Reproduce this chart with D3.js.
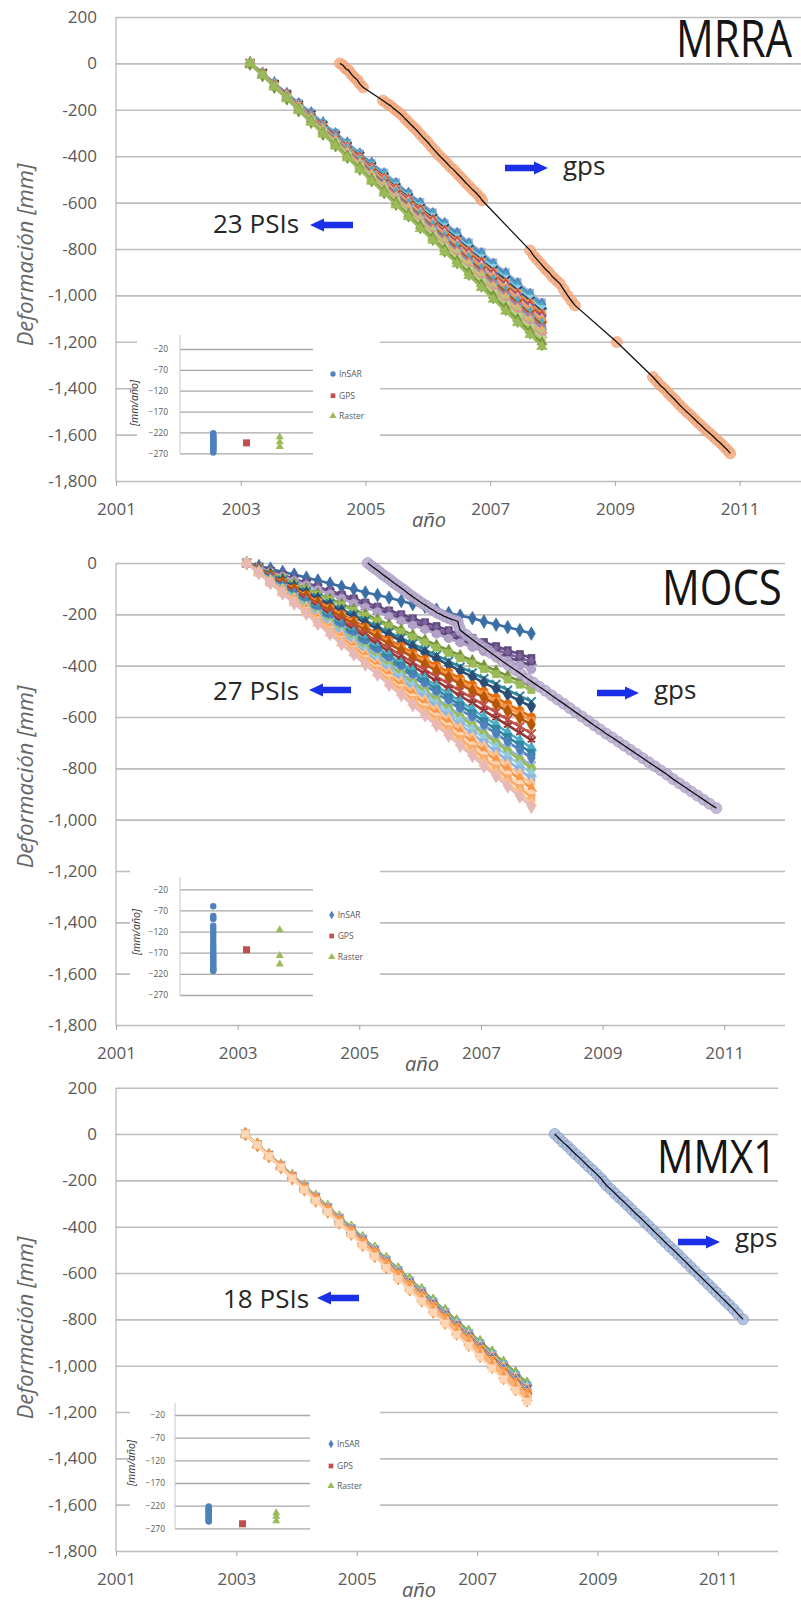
<!DOCTYPE html>
<html>
<head>
<meta charset="utf-8">
<script src="https://cdn.jsdelivr.net/npm/d3@7"></script>
<style>
  body { margin: 0; background: #fff; }
  svg { display: block; }
</style>
</head>
<body>
<div id="chart"></div>
<script>
// acquisition dates shared by all PSI series (decimal years)
var psiEpochs = [2003.15, 2003.35, 2003.54, 2003.74, 2003.93, 2004.13, 2004.32, 2004.52, 2004.71, 2004.91,
  2005.10, 2005.30, 2005.49, 2005.69, 2005.88, 2006.08, 2006.27, 2006.47, 2006.66, 2006.86,
  2007.05, 2007.25, 2007.44, 2007.64, 2007.83];

// ---- MRRA ----
var mrraPsi = [
  [0,-40,-88,-130,-170,-212,-260,-298,-342,-388,-430,-470,-512,-560,-598,-642,-688,-728,-772,-812,-858,-900,-942,-988,-1030],
  [0,-45,-85,-132,-175,-215,-258,-305,-345,-392,-432,-478,-520,-562,-605,-650,-692,-735,-780,-822,-868,-908,-952,-998,-1040],
  [0,-42,-90,-130,-178,-220,-262,-308,-350,-395,-438,-480,-525,-570,-612,-655,-700,-745,-788,-830,-875,-918,-962,-1005,-1050],
  [0,-46,-88,-135,-176,-222,-265,-310,-352,-398,-442,-488,-530,-575,-620,-662,-706,-752,-795,-840,-882,-928,-972,-1015,-1060],
  [0,-43,-90,-134,-180,-222,-268,-312,-358,-400,-446,-490,-535,-580,-625,-668,-712,-758,-802,-848,-892,-935,-980,-1025,-1070],
  [0,-47,-90,-136,-180,-226,-270,-316,-360,-405,-450,-494,-540,-586,-630,-675,-720,-764,-810,-855,-900,-946,-990,-1034,-1080],
  [0,-44,-92,-135,-182,-228,-272,-318,-364,-408,-454,-500,-545,-590,-636,-680,-726,-772,-818,-862,-908,-954,-1000,-1044,-1090],
  [0,-48,-92,-138,-184,-228,-276,-320,-366,-414,-458,-505,-550,-596,-642,-688,-734,-778,-826,-870,-916,-962,-1008,-1054,-1100],
  [0,-45,-94,-138,-185,-230,-276,-322,-368,-415,-460,-506,-552,-598,-645,-690,-736,-782,-830,-875,-920,-966,-1012,-1060,-1105],
  [0,-47,-92,-140,-185,-232,-278,-325,-370,-416,-462,-508,-555,-602,-648,-694,-740,-786,-832,-880,-925,-970,-1018,-1064,-1110],
  [0,-46,-94,-140,-188,-234,-280,-326,-374,-420,-466,-514,-560,-606,-654,-700,-746,-794,-840,-886,-934,-980,-1026,-1074,-1120],
  [0,-48,-94,-142,-188,-235,-282,-328,-375,-422,-468,-516,-562,-610,-656,-703,-750,-796,-844,-890,-938,-984,-1030,-1078,-1125],
  [0,-46,-95,-142,-190,-236,-284,-330,-378,-424,-472,-518,-566,-612,-660,-706,-754,-800,-848,-894,-942,-988,-1036,-1082,-1130],
  [0,-48,-96,-144,-190,-238,-286,-332,-380,-428,-476,-522,-570,-618,-665,-712,-760,-808,-855,-902,-950,-998,-1045,-1092,-1140],
  [0,-47,-96,-144,-192,-240,-288,-336,-383,-432,-480,-528,-575,-623,-671,-719,-767,-815,-862,-910,-958,-1006,-1054,-1102,-1150],
  [0,-49,-97,-145,-193,-241,-289,-337,-385,-434,-482,-530,-578,-626,-674,-722,-770,-818,-866,-914,-962,-1010,-1058,-1106,-1155],
  [0,-48,-98,-145,-194,-242,-290,-338,-387,-435,-484,-532,-580,-628,-677,-725,-773,-822,-870,-918,-967,-1015,-1063,-1112,-1160],
  [0,-50,-98,-147,-195,-244,-292,-341,-390,-439,-488,-536,-585,-634,-682,-731,-780,-829,-878,-926,-975,-1024,-1072,-1121,-1170],
  [0,-49,-99,-148,-197,-246,-295,-344,-393,-442,-492,-541,-590,-639,-688,-738,-787,-836,-885,-934,-983,-1032,-1082,-1131,-1180],
  [0,-50,-100,-149,-198,-248,-298,-347,-397,-446,-496,-545,-595,-645,-694,-744,-793,-843,-892,-942,-992,-1041,-1091,-1140,-1190],
  [0,-51,-100,-150,-200,-250,-300,-350,-400,-450,-500,-550,-600,-650,-700,-750,-800,-850,-900,-950,-1000,-1050,-1100,-1150,-1200],
  [0,-50,-101,-151,-202,-252,-303,-353,-403,-454,-504,-555,-605,-655,-706,-756,-807,-857,-907,-958,-1008,-1059,-1109,-1160,-1210],
  [0,-52,-102,-152,-203,-254,-305,-356,-407,-458,-508,-559,-610,-661,-712,-762,-813,-864,-915,-966,-1017,-1068,-1118,-1169,-1220]
];
var mrraPsiColors = ["#95B3D7","#4F81BD","#4BACC6","#93CDDD","#2C4D75","#F79646","#C0504D","#8064A2","#E6B9B8","#F79646","#D99694","#4BACC6",
  "#B65708","#9983B5","#CD7371","#6FBDD1","#F9AB6B","#AFC97A","#D99694","#C3D69B","#9BBB59","#77933C","#9BBB59"];
var mrraPsiShapes = ["square","diamond","triangle","square","x","circle","diamond","square","triangle","circle","square","diamond",
  "x","circle","triangle","square","diamond","triangle","circle","square","triangle","diamond","triangle"];
var mrraGpsYears = [2004.59,2004.64,2004.68,2004.73,2004.77,2004.82,2004.87,2004.91,2004.96,
  2005.28,2005.34,2005.40,2005.46,2005.52,2005.58,2005.64,2005.70,2005.76,2005.82,2005.88,2005.94,2006.00,2006.06,2006.12,
  2006.18,2006.24,2006.30,2006.36,2006.42,2006.48,2006.54,2006.60,2006.66,2006.72,2006.78,2006.84,2006.87,
  2007.64,2007.70,2007.76,2007.82,2007.88,2007.94,2008.00,2008.06,2008.12,2008.18,2008.24,2008.30,2008.36,
  2009.03,
  2009.61,2009.67,2009.73,2009.79,2009.85,2009.91,2009.97,2010.03,2010.09,2010.15,2010.21,2010.27,2010.33,2010.39,
  2010.45,2010.51,2010.57,2010.63,2010.69,2010.75,2010.81,2010.85];
var mrraGpsValues = [0,-8,-22,-30,-45,-60,-72,-88,-103,
  -160,-172,-182,-196,-208,-222,-240,-256,-272,-288,-306,-324,-340,-360,-378,
  -396,-412,-428,-446,-460,-478,-494,-512,-528,-545,-560,-578,-590,
  -806,-830,-848,-866,-885,-900,-920,-935,-950,-975,-1000,-1022,-1043,
  -1201,
  -1352,-1370,-1388,-1402,-1420,-1436,-1452,-1470,-1486,-1502,-1516,-1532,-1548,-1562,
  -1578,-1592,-1606,-1622,-1636,-1652,-1668,-1681];
var mrraInsarRates = [-222,-225,-228,-230,-232,-234,-236,-238,-240,-241,-243,-245,-247,-248,-250,-252,-254,-256,-258,-260,-262,-265,-268];
var mrraGpsRate = [-245];
var mrraRasterRates = [-231,-243,-254];

// ---- MOCS ----
var mocsPsi = [
  [0,-12,-22,-35,-45,-57,-68,-80,-92,-102,-115,-125,-135,-148,-160,-170,-182,-195,-205,-215,-228,-240,-250,-262,-275],
  [0,-15,-30,-46,-62,-77,-92,-108,-123,-138,-154,-170,-185,-200,-216,-231,-246,-262,-278,-292,-308,-324,-340,-355,-370],
  [0,-16,-32,-48,-64,-80,-96,-112,-128,-144,-160,-176,-192,-208,-225,-240,-257,-272,-289,-305,-321,-337,-353,-369,-385],
  [0,-17,-33,-50,-67,-83,-100,-117,-133,-150,-167,-183,-200,-217,-233,-250,-267,-283,-300,-317,-333,-350,-367,-383,-400],
  [0,-17,-35,-52,-69,-86,-104,-121,-138,-156,-173,-190,-208,-225,-242,-259,-277,-294,-311,-329,-346,-363,-380,-398,-415],
  [0,-20,-40,-60,-80,-100,-120,-140,-160,-180,-200,-220,-240,-260,-280,-300,-320,-340,-360,-380,-400,-420,-440,-460,-480],
  [0,-21,-41,-62,-83,-103,-124,-144,-165,-186,-206,-227,-248,-268,-289,-309,-330,-351,-371,-392,-413,-433,-454,-474,-495],
  [0,-22,-45,-68,-90,-112,-135,-158,-180,-202,-225,-248,-270,-292,-315,-338,-360,-382,-405,-428,-450,-472,-495,-518,-540],
  [0,-23,-47,-70,-93,-117,-140,-163,-187,-210,-233,-257,-280,-303,-327,-350,-373,-397,-420,-443,-467,-490,-513,-537,-560],
  [0,-25,-50,-75,-100,-125,-150,-175,-200,-225,-250,-275,-300,-325,-350,-375,-400,-425,-450,-475,-500,-525,-550,-575,-600],
  [0,-26,-51,-77,-102,-128,-154,-179,-205,-231,-256,-282,-308,-333,-359,-384,-410,-436,-461,-487,-512,-538,-564,-589,-615],
  [0,-26,-52,-79,-105,-131,-158,-184,-210,-236,-262,-289,-315,-341,-368,-394,-420,-446,-472,-499,-525,-551,-578,-604,-630],
  [0,-28,-55,-83,-111,-139,-166,-194,-222,-249,-277,-305,-332,-360,-388,-416,-443,-471,-499,-526,-554,-582,-610,-637,-665],
  [0,-29,-58,-86,-115,-144,-172,-201,-230,-259,-288,-316,-345,-374,-402,-431,-460,-489,-518,-546,-575,-604,-632,-661,-690],
  [0,-30,-60,-90,-120,-150,-180,-210,-240,-270,-300,-330,-360,-390,-420,-450,-480,-510,-540,-570,-600,-630,-660,-690,-720],
  [0,-31,-62,-92,-123,-154,-185,-216,-247,-277,-308,-339,-370,-401,-432,-462,-493,-524,-555,-586,-617,-647,-678,-709,-740],
  [0,-32,-63,-95,-127,-158,-190,-222,-253,-285,-317,-348,-380,-412,-443,-475,-507,-538,-570,-602,-633,-665,-697,-728,-760],
  [0,-33,-66,-99,-132,-165,-198,-230,-263,-296,-329,-362,-395,-428,-461,-494,-527,-560,-592,-625,-658,-691,-724,-757,-790],
  [0,-33,-67,-100,-133,-167,-200,-233,-267,-300,-333,-367,-400,-433,-467,-500,-533,-567,-600,-633,-667,-700,-733,-767,-800],
  [0,-34,-68,-102,-137,-171,-205,-239,-273,-307,-342,-376,-410,-444,-478,-512,-547,-581,-615,-649,-683,-717,-752,-786,-820],
  [0,-35,-70,-105,-140,-175,-210,-245,-280,-315,-350,-385,-420,-455,-490,-525,-560,-595,-630,-665,-700,-735,-770,-805,-840],
  [0,-36,-72,-108,-143,-179,-215,-251,-287,-322,-358,-394,-430,-466,-502,-537,-573,-609,-645,-681,-717,-752,-788,-824,-860],
  [0,-37,-73,-110,-147,-183,-220,-257,-293,-330,-367,-403,-440,-477,-513,-550,-587,-623,-660,-697,-733,-770,-807,-843,-880],
  [0,-38,-75,-112,-150,-188,-225,-262,-300,-338,-375,-412,-450,-488,-525,-562,-600,-638,-675,-712,-750,-788,-825,-862,-900],
  [0,-38,-76,-114,-152,-191,-229,-267,-305,-343,-381,-419,-458,-496,-534,-572,-610,-648,-686,-724,-762,-801,-839,-877,-915],
  [0,-39,-78,-117,-156,-195,-234,-273,-312,-351,-390,-429,-468,-506,-545,-584,-623,-662,-701,-740,-779,-818,-857,-896,-935],
  [0,-40,-79,-119,-158,-198,-238,-277,-317,-356,-396,-435,-475,-515,-554,-594,-633,-673,-712,-752,-792,-831,-871,-910,-950]
];
var mocsPsiColors = ["#3A6EA5","#604A7B","#8064A2","#5F497A","#B3A2C7","#77933C","#9BBB59","#31859C","#2C4D75","#E46C0A","#F79646","#B65708",
  "#C0504D","#953735","#4BACC6","#31859C","#4F81BD","#95B3D7","#9BBB59","#93CDDD","#8EB4E3","#FAC090","#F79646","#FCD5B5","#F9AB6B","#FAC090","#E6B9B8"];
var mocsPsiShapes = ["diamond","square","triangle","x","circle","triangle","square","x","diamond","circle","square","diamond",
  "x","star","triangle","square","diamond","x","circle","triangle","square","diamond","triangle","circle","square","triangle","diamond"];
var mocsGpsYears = [2005.14,2005.20,2005.26,2005.32,2005.38,2005.44,2005.50,2005.56,2005.62,2005.68,2005.74,2005.80,2005.86,2005.92,
  2005.98,2006.04,2006.10,2006.16,2006.22,2006.28,2006.34,2006.40,2006.46,2006.52,2006.58,2006.62,2006.64,2006.66,
  2006.76,2006.86,2006.96,2007.06,2007.16,2007.26,2007.36,2007.46,2007.56,2007.66,2007.76,2007.86,2007.96,2008.06,
  2008.16,2008.26,2008.36,2008.46,2008.56,2008.66,2008.76,2008.86,2008.96,2009.06,2009.16,2009.26,2009.36,2009.46,
  2009.56,2009.66,2009.76,2009.86,2009.96,2010.06,2010.16,2010.26,2010.36,2010.46,2010.56,2010.66,2010.76,2010.87];
var mocsGpsValues = [0,-12,-22,-32,-44,-54,-64,-76,-86,-96,-106,-118,-128,-138,
  -148,-158,-166,-176,-184,-194,-200,-208,-214,-220,-224,-228,-248,-262,
  -280,-298,-316,-332,-350,-366,-384,-400,-416,-432,-450,-466,-482,-498,
  -515,-532,-548,-565,-582,-598,-615,-632,-648,-665,-680,-696,-712,-728,
  -744,-760,-776,-792,-808,-824,-842,-858,-874,-890,-906,-922,-938,-955];
var mocsInsarRates = [-60,-83,-87,-90,-106,-112,-120,-126,-132,-140,-148,-154,-160,-165,-171,-175,-179,-183,-187,-191,-195,-199,-203,-206,-208,-211,-213];
var mocsGpsRate = [-163];
var mocsRasterRates = [-116,-177,-197];

// ---- MMX1 ----
var mmx1Psi = [
  [0,-45,-90,-134,-179,-224,-269,-314,-358,-403,-448,-493,-538,-582,-627,-672,-717,-762,-806,-851,-896,-941,-985,-1030,-1075],
  [0,-45,-90,-135,-180,-225,-270,-315,-360,-405,-450,-495,-540,-585,-630,-675,-720,-765,-810,-855,-900,-945,-990,-1035,-1080],
  [0,-45,-90,-136,-181,-226,-271,-316,-362,-407,-452,-497,-542,-588,-633,-678,-723,-768,-814,-859,-904,-949,-995,-1040,-1085],
  [0,-45,-91,-136,-182,-227,-272,-318,-363,-409,-454,-500,-545,-590,-636,-681,-727,-772,-818,-863,-908,-954,-999,-1045,-1090],
  [0,-46,-91,-137,-182,-228,-274,-319,-365,-411,-456,-502,-548,-593,-639,-684,-730,-776,-821,-867,-912,-958,-1004,-1049,-1095],
  [0,-46,-92,-137,-183,-229,-274,-320,-366,-412,-457,-503,-549,-595,-640,-686,-732,-777,-823,-869,-915,-960,-1006,-1052,-1098],
  [0,-46,-92,-138,-183,-229,-275,-321,-367,-412,-458,-504,-550,-596,-642,-688,-733,-779,-825,-871,-917,-962,-1008,-1054,-1100],
  [0,-46,-92,-138,-184,-230,-276,-322,-368,-414,-460,-506,-552,-598,-645,-691,-737,-783,-829,-875,-921,-967,-1013,-1059,-1105],
  [0,-46,-92,-139,-185,-231,-278,-324,-370,-416,-462,-509,-555,-601,-648,-694,-740,-786,-832,-879,-925,-971,-1018,-1064,-1110],
  [0,-46,-93,-139,-186,-232,-279,-325,-372,-418,-465,-511,-558,-604,-650,-697,-743,-790,-836,-883,-929,-976,-1022,-1069,-1115],
  [0,-47,-93,-140,-187,-233,-280,-327,-373,-420,-467,-513,-560,-607,-653,-700,-747,-793,-840,-887,-933,-980,-1027,-1073,-1120],
  [0,-47,-94,-141,-188,-234,-281,-328,-375,-422,-469,-516,-562,-609,-656,-703,-750,-797,-844,-891,-938,-984,-1031,-1078,-1125],
  [0,-47,-94,-141,-188,-235,-282,-330,-377,-424,-471,-518,-565,-612,-659,-706,-753,-800,-848,-895,-942,-989,-1036,-1083,-1130],
  [0,-47,-95,-142,-189,-236,-284,-331,-378,-426,-473,-520,-568,-615,-662,-709,-757,-804,-851,-899,-946,-993,-1040,-1088,-1135],
  [0,-48,-95,-142,-190,-238,-285,-332,-380,-428,-475,-522,-570,-618,-665,-712,-760,-808,-855,-902,-950,-998,-1045,-1092,-1140],
  [0,-48,-95,-143,-191,-239,-286,-334,-382,-429,-477,-525,-572,-620,-668,-716,-763,-811,-859,-906,-954,-1002,-1050,-1097,-1145],
  [0,-48,-96,-144,-192,-240,-288,-335,-383,-431,-479,-527,-575,-623,-671,-719,-767,-815,-862,-910,-958,-1006,-1054,-1102,-1150],
  [0,-48,-96,-144,-192,-241,-289,-337,-385,-433,-481,-529,-578,-626,-674,-722,-770,-818,-866,-914,-962,-1011,-1059,-1107,-1155]
];
var mmx1PsiColors = ["#77933C","#9BBB59","#4BACC6","#8EB4E3","#C3D69B","#F79646","#8064A2","#FAC090","#4F81BD","#F9AB6B","#E46C0A","#FCD5B5",
  "#F79646","#FAC090","#F9AB6B","#FAC090","#F79646","#FCD5B5"];
var mmx1PsiShapes = ["triangle","diamond","square","x","triangle","circle","square","diamond","triangle","square","circle","triangle",
  "diamond","square","triangle","circle","diamond","square"];
var mmx1GpsYears = [2008.29,2008.36,2008.43,2008.50,2008.57,2008.64,2008.71,2008.78,2008.85,2008.92,2008.99,2009.06,2009.10,2009.15,
  2009.22,2009.29,2009.36,2009.43,2009.50,2009.57,2009.64,2009.71,2009.78,2009.85,2009.92,2009.99,2010.06,2010.13,
  2010.20,2010.27,2010.34,2010.41,2010.48,2010.55,2010.62,2010.70,2010.77,2010.84,2010.91,2010.98,2011.05,2011.12,
  2011.19,2011.26,2011.33,2011.42];
var mmx1GpsValues = [0,-18,-36,-52,-70,-88,-104,-122,-140,-156,-174,-192,-206,-222,
  -238,-256,-274,-290,-308,-326,-344,-360,-378,-396,-414,-432,-450,-468,
  -486,-502,-520,-538,-556,-574,-592,-612,-630,-648,-666,-684,-702,-720,
  -738,-756,-776,-800];
var mmx1InsarRates = [-222,-224,-226,-228,-230,-232,-234,-236,-238,-240,-242,-244,-246,-248,-250,-252,-254,-255];
var mmx1GpsRate = [-260];
var mmx1RasterRates = [-236,-244,-254];

// ---- axes ----
var yTicksFrom200 = [200,0,-200,-400,-600,-800,-1000,-1200,-1400,-1600,-1800];
var yTicksFrom0 = [0,-200,-400,-600,-800,-1000,-1200,-1400,-1600,-1800];
var xTickYears = [2001,2003,2005,2007,2009,2011];
var insetTicks = [-20,-70,-120,-170,-220,-270];
var insetNames = ["InSAR","GPS","Raster"];

var font = "'Open Sans', 'DejaVu Sans', sans-serif";
var fmt = d3.formatLocale({decimal: ".", thousands: ",", grouping: [3], currency: ["", ""], minus: "-"}).format(",");

var svg = d3.select("#chart").append("svg")
  .attr("width", 801)
  .attr("height", 1604)
  .style("font-family", font);

svg.append("rect").attr("width", 801).attr("height", 1604).attr("fill", "#fff");

var panels = [
  {title: "MRRA", psi: mrraPsi, colors: mrraPsiColors, shapes: mrraPsiShapes,
   gpsX: mrraGpsYears, gpsY: mrraGpsValues, gpsColor: "#F4AE84", gpsEdge: "#E9956A",
   insar: mrraInsarRates, gps: mrraGpsRate, raster: mrraRasterRates, psiLabel: "23 PSIs", yTicks: yTicksFrom200,
   xRight: 802, yTop: 17, yBottom: 481,
   titleX: 676, titleY: 57, titleSize: 42, titleStretch: 1.22,
   psiLabelX: 213, psiLabelY: 233, psiArrow: [310, 353, 225],
   gpsLabelX: 563, gpsLabelY: 175, gpsArrow: [505, 548, 168],
   yTitleY: 255, anoX: 429,
   inset: {axisX: 180, gridEnd: 313, top: 349, bottom: 453.3, axisTop: 335, box: [137, 326, 380, 470],
           labelX: 168, titleX: 138, titleY: 403, legX: 333, legY: [374, 395.7, 416], legendMark: "circle"}},
  {title: "MOCS", psi: mocsPsi, colors: mocsPsiColors, shapes: mocsPsiShapes,
   gpsX: mocsGpsYears, gpsY: mocsGpsValues, gpsColor: "#B9ABCE", gpsEdge: "#9D8DB8",
   insar: mocsInsarRates, gps: mocsGpsRate, raster: mocsRasterRates, psiLabel: "27 PSIs", yTicks: yTicksFrom0,
   xRight: 785, yTop: 563, yBottom: 1025,
   titleX: 662, titleY: 605, titleSize: 42, titleStretch: 1.17,
   psiLabelX: 213, psiLabelY: 700, psiArrow: [309, 351, 690],
   gpsLabelX: 654, gpsLabelY: 699, gpsArrow: [597, 639, 693],
   yTitleY: 777, anoX: 422,
   inset: {axisX: 180, gridEnd: 313, top: 889.3, bottom: 995, axisTop: 876.7, box: [130, 860, 380, 1008],
           labelX: 168, titleX: 140, titleY: 932, legX: 331.7, legY: [915, 936, 957], legendMark: "diamond"}},
  {title: "MMX1", psi: mmx1Psi, colors: mmx1PsiColors, shapes: mmx1PsiShapes,
   gpsX: mmx1GpsYears, gpsY: mmx1GpsValues, gpsColor: "#A9BBDD", gpsEdge: "#6F85B3",
   insar: mmx1InsarRates, gps: mmx1GpsRate, raster: mmx1RasterRates, psiLabel: "18 PSIs", yTicks: yTicksFrom200,
   xRight: 778, yTop: 1087.7, yBottom: 1551,
   titleX: 657, titleY: 1173, titleSize: 40.5, titleStretch: 1.14,
   psiLabelX: 223, psiLabelY: 1308, psiArrow: [317, 359, 1298],
   gpsLabelX: 735, gpsLabelY: 1247, gpsArrow: [678, 720, 1242],
   yTitleY: 1328, anoX: 419,
   inset: {axisX: 175, gridEnd: 310, top: 1415, bottom: 1528.3, axisTop: 1403, box: [130, 1395, 380, 1540],
           labelX: 165, titleX: 135, titleY: 1463, legX: 331, legY: [1444, 1466, 1486], legendMark: "diamond"}}
];

var symbolTypes = {
  diamond: d3.symbolDiamond, square: d3.symbolSquare, triangle: d3.symbolTriangle,
  circle: d3.symbolCircle, x: d3.symbolX, star: d3.symbolAsterisk
};
var symbolSizes = {diamond: 52, square: 50, triangle: 46, circle: 52, x: 50, star: 52};

function marker(g, shape, color, cx, cy) {
  var open = (shape == "x" || shape == "star");
  g.append("path")
    .attr("d", d3.symbol().type(symbolTypes[shape]).size(symbolSizes[shape])())
    .attr("transform", "translate(" + cx + "," + cy + ")")
    .attr("fill", open ? "none" : color)
    .attr("stroke", color)
    .attr("stroke-width", open ? 2 : 0.8);
}

function arrow(g, x1, x2, yc) {
  // x1 is the tip
  var d = x1 < x2 ? 1 : -1;
  var hx = x1 + d * 14;
  var pts = [[x1, yc], [hx, yc - 6.5], [hx, yc - 3.2], [x2, yc - 3.2], [x2, yc + 3.2], [hx, yc + 3.2], [hx, yc + 6.5]];
  g.append("polygon").attr("points", pts.map(function(p) { return p.join(","); }).join(" "))
    .attr("fill", "#1A2FE8");
}

function drawInset(g, p) {
  var s = p.inset;
  var xi = d3.scaleLinear().domain([0, 4]).range([s.axisX, s.gridEnd]);
  var yi = d3.scaleLinear().domain([-20, -270]).range([s.top, s.bottom]);

  g.append("rect").attr("x", s.box[0]).attr("y", s.box[1])
    .attr("width", s.box[2] - s.box[0]).attr("height", s.box[3] - s.box[1]).attr("fill", "#fff");

  var ax = g.append("g").attr("transform", "translate(" + s.axisX + ",0)")
    .call(d3.axisLeft(yi).tickValues(insetTicks).tickSize(-(s.gridEnd - s.axisX)).tickPadding(s.axisX - s.labelX));
  ax.select(".domain").remove();
  ax.attr("font-size", 8.5).attr("font-family", font);
  ax.selectAll("line").attr("stroke", "#A8A8A8").attr("stroke-width", 1.3);
  ax.selectAll("text").attr("fill", "#595959");

  g.append("line").attr("x1", s.axisX).attr("x2", s.axisX).attr("y1", s.axisTop).attr("y2", s.bottom)
    .attr("stroke", "#C8C8C8").attr("stroke-width", 1);

  g.append("text").attr("transform", "translate(" + s.titleX + "," + s.titleY + ") rotate(-90)")
    .attr("text-anchor", "middle").attr("font-size", 10.5).attr("font-style", "italic")
    .attr("fill", "#333").text("[mm/año]");

  p.insar.forEach(function(v) {
    g.append("circle").attr("cx", xi(1)).attr("cy", yi(v)).attr("r", 3.2).attr("fill", "#4F81BD");
  });
  p.gps.forEach(function(v) {
    g.append("rect").attr("x", xi(2) - 3.5).attr("y", yi(v) - 3.5).attr("width", 7).attr("height", 7).attr("fill", "#C0504D");
  });
  p.raster.forEach(function(v) {
    g.append("path").attr("d", d3.symbol().type(d3.symbolTriangle).size(28)())
      .attr("transform", "translate(" + xi(3) + "," + yi(v) + ")").attr("fill", "#9BBB59");
  });

  var legColors = ["#4F81BD", "#C0504D", "#9BBB59"];
  var legShapes = [p.inset.legendMark, "square", "triangle"];
  insetNames.forEach(function(name, i) {
    g.append("path").attr("d", d3.symbol().type(symbolTypes[legShapes[i]]).size(22)())
      .attr("transform", "translate(" + s.legX + "," + s.legY[i] + ")").attr("fill", legColors[i]);
    g.append("text").attr("x", s.legX + 6).attr("y", s.legY[i]).attr("dy", "0.35em")
      .attr("font-size", 8.5).attr("fill", "#595959").text(name);
  });
}

function drawPanel(p) {
  var x = d3.scaleLinear().domain([2001, 2012]).range([116, p.xRight]);
  var y = d3.scaleLinear().domain([p.yTicks[0], -1800]).range([p.yTop, p.yBottom]);
  var g = svg.append("g");

  // grid lines + y tick labels
  var ya = g.append("g").attr("transform", "translate(116,0)")
    .call(d3.axisLeft(y).tickValues(p.yTicks).tickFormat(fmt).tickSize(-(p.xRight - 116)).tickPadding(19));
  ya.select(".domain").remove();
  ya.attr("font-size", 17).attr("font-family", font);
  ya.selectAll("line").attr("stroke", "#BDBDBD").attr("stroke-width", 1.6);
  ya.selectAll("text").attr("fill", "#595959");

  g.append("line").attr("x1", 116).attr("x2", 116).attr("y1", p.yTop).attr("y2", p.yBottom)
    .attr("stroke", "#A6A6A6").attr("stroke-width", 1);

  // x axis ticks + labels
  var xa = g.append("g").attr("transform", "translate(0," + p.yBottom + ")")
    .call(d3.axisBottom(x).tickValues(xTickYears).tickFormat(d3.format("d")).tickSize(5).tickPadding(17));
  xa.select(".domain").remove();
  xa.attr("font-size", 17).attr("font-family", font);
  xa.selectAll("line").attr("stroke", "#A6A6A6");
  xa.selectAll("text").attr("fill", "#595959");

  drawInset(g, p);

  // PSI time series
  var line = d3.line()
    .x(function(d, i) { return x(psiEpochs[i]); })
    .y(function(d) { return y(d); });
  p.psi.forEach(function(row, k) {
    var col = p.colors[k];
    var sg = g.append("g");
    sg.append("path").attr("d", line(row)).attr("fill", "none").attr("stroke", col).attr("stroke-width", 2.6);
    row.forEach(function(v, i) {
      marker(sg, p.shapes[k], col, x(psiEpochs[i]), y(v));
    });
  });

  // gps series: coloured markers with a black connecting line
  var gg = g.append("g");
  p.gpsY.forEach(function(v, i) {
    gg.append("circle").attr("cx", x(p.gpsX[i])).attr("cy", y(v)).attr("r", 5.5)
      .attr("fill", p.gpsColor).attr("fill-opacity", 0.85)
      .attr("stroke", p.gpsEdge).attr("stroke-width", 0.8).attr("stroke-opacity", 0.7);
  });
  var gpsLine = d3.line()
    .x(function(d, i) { return x(p.gpsX[i]); })
    .y(function(d) { return y(d); });
  gg.append("path").attr("d", gpsLine(p.gpsY)).attr("fill", "none").attr("stroke", "#111").attr("stroke-width", 1.3);

  // titles and annotations (title stretched vertically to match the tall lettering)
  g.append("text")
    .attr("transform", "translate(" + p.titleX + "," + p.titleY + ") scale(1," + p.titleStretch + ")")
    .attr("font-size", p.titleSize)
    .attr("fill", "#151515").text(p.title);

  g.append("text").attr("x", p.psiLabelX).attr("y", p.psiLabelY).attr("font-size", 26)
    .attr("fill", "#262626").text(p.psiLabel);
  arrow(g, p.psiArrow[0], p.psiArrow[1], p.psiArrow[2]);

  g.append("text").attr("x", p.gpsLabelX).attr("y", p.gpsLabelY).attr("font-size", 26)
    .attr("fill", "#262626").text("gps");
  arrow(g, p.gpsArrow[1], p.gpsArrow[0], p.gpsArrow[2]);

  g.append("text").attr("transform", "translate(25," + p.yTitleY + ") rotate(-90)")
    .attr("text-anchor", "middle").attr("dy", "0.35em").attr("font-size", 22).attr("font-style", "italic")
    .attr("fill", "#666").text("Deformación [mm]");

  g.append("text").attr("x", p.anoX).attr("y", p.yBottom + 46).attr("text-anchor", "middle")
    .attr("font-size", 20).attr("font-style", "italic").attr("fill", "#595959").text("año");
}

panels.forEach(drawPanel);
</script>
</body>
</html>
